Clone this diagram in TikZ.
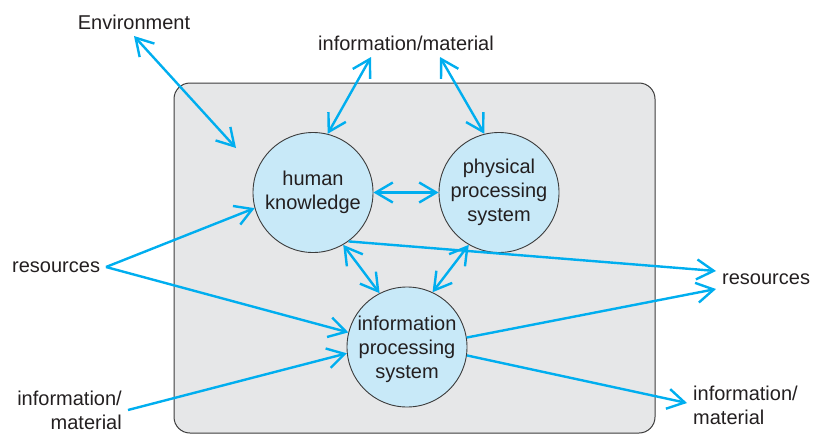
\documentclass[tikz,border=0pt]{standalone}
\usepackage{fontspec}
\setmainfont{Liberation Sans}
\usetikzlibrary{arrows.meta}
\definecolor{arr}{RGB}{0,174,239}
\definecolor{cfill}{RGB}{200,233,248}
\definecolor{boxfill}{RGB}{230,231,232}
\definecolor{txt}{RGB}{35,31,32}
\definecolor{edge}{RGB}{60,60,60}
\begin{document}
\begin{tikzpicture}[x=1pt,y=-1pt,
  every node/.style={font=\fontsize{20}{24}\selectfont, text=txt},
  proc/.style={circle, draw=edge, line width=0.9pt, fill=cfill, minimum size=120pt, inner sep=0pt, align=center},
  lbl/.style={inner sep=0pt},
  flow/.style={draw=arr, line width=2.4pt, -{Straight Barb[length=17pt,width=20pt]}},
  bflow/.style={draw=arr, line width=2.4pt, {Straight Barb[length=17pt,width=20pt]}-{Straight Barb[length=17pt,width=20pt]}}
]
\useasboundingbox (0,0) rectangle (827,434);
\path[fill=boxfill, draw=edge, line width=1pt, rounded corners=16pt] (174,83) rectangle (655,433);

\node[proc] (hk) at (313,192.5) {human\\knowledge};
\node[proc] (pp) at (499,192.5) {physical\\processing\\system};
\node[proc, text depth=0pt] (ip) at (407,347) {information\\processing\\system};

\node[lbl, anchor=base] (env) at (134,29) {Environment};
\node[lbl, anchor=base] (imtop) at (406,50) {information/material};
\node[lbl, anchor=base west] (resl) at (12,272) {resources};
\node[lbl, anchor=base west] (resr) at (722,284) {resources};
\node[lbl, anchor=east, align=right] (imbl) at (122,410) {information/\\material};
\node[lbl, anchor=west, align=left] (imbr) at (693,405) {information/\\material};

\coordinate (envtip) at (134,36);
\coordinate (envin) at (236,148);
\coordinate (imtl) at (371,57);
\coordinate (imtr) at (440,57);
\coordinate (reslp) at (106,267);
\coordinate (resr1) at (716,271);
\coordinate (resr2) at (716,289);
\coordinate (imblp) at (128,410);
\coordinate (imbrp) at (687,403);

\draw[bflow] (envtip) -- (envin);
\draw[bflow] (imtl) -- (hk.76);
\draw[bflow] (imtr) -- (pp.104);
\draw[bflow] (hk.east) -- (pp.west);
\draw[flow] (reslp) -- (hk.195);
\draw[flow] (reslp) -- (ip.166);
\draw[bflow] (hk.-60) -- (ip.117);
\draw[bflow] (pp.-120) -- (ip.65);
\draw[flow] (hk.-54) -- (resr1);
\draw[flow] (ip.9) -- (resr2);
\draw[flow] (imblp) -- (ip.186);
\draw[flow] (ip.-8) -- (imbrp);
\end{tikzpicture}
\end{document}
